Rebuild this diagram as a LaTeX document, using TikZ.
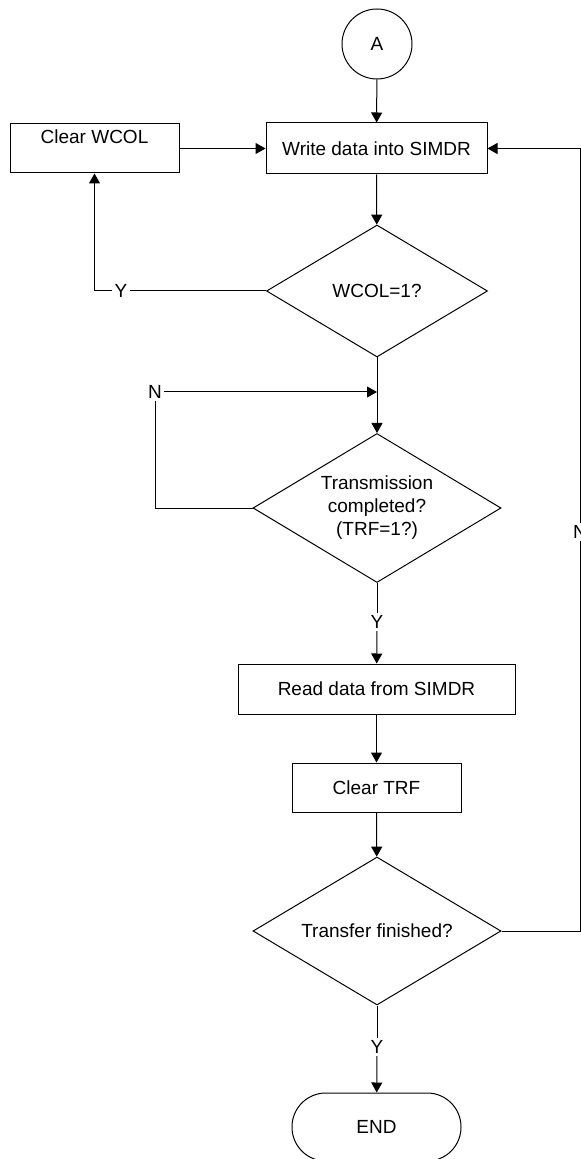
\documentclass[tikz,border=0pt]{standalone}
\usepackage{fontspec}
\setmainfont{Liberation Sans}
\usetikzlibrary{arrows.meta, positioning, shapes.geometric}

\begin{document}
\begin{tikzpicture}[x=0.5pt, y=-0.5pt, line width=0.5pt,
    font=\fontsize{9.5pt}{11.5pt}\selectfont,
    box/.style={draw, rectangle, inner sep=0pt, align=center},
    decision/.style={draw, diamond, inner sep=0pt, aspect=1.65, align=center},
    lbl/.style={inner sep=1pt},
    arrow/.style={-{Triangle[length=5pt, width=5.5pt]}}]
    \useasboundingbox (0,0) rectangle (581,1159);

    % Steps of the flow
    \node[draw, circle, minimum size=35pt, inner sep=0pt] (conA) at (377,44) {A};
    \node[box, minimum width=110.5pt, minimum height=25.5pt] (write) at (376.5,148.5) {Write data into SIMDR};
    \node[box, minimum width=84.5pt, inner ysep=3pt, text height=7pt, text depth=11.5pt] (clrwcol) at (94.5,148.5) {Clear WCOL};
    \node[decision, minimum width=110.5pt, minimum height=66pt] (wcolchk) at (377,291) {WCOL=1?};
    \node[decision, minimum width=124pt, minimum height=74.5pt] (trfchk) at (377,508) {Transmission\\completed?\\(TRF=1?)};
    \node[box, minimum width=138.5pt, minimum height=25pt] (read) at (376.5,689) {Read data from SIMDR};
    \node[box, minimum width=84.5pt, minimum height=24.5pt] (clrtrf) at (376.5,787.5) {Clear TRF};
    \node[decision, minimum width=124pt, minimum height=74pt] (donechk) at (377,931) {Transfer finished?};
    \node[draw, rounded corners=16.9pt, minimum width=84.5pt, minimum height=34pt, inner sep=0pt] (endnode) at (376.5,1127) {END};

    % Branch labels
    \node[lbl] (ywcol) at (121,291) {Y};
    \node[lbl] (ntrf) at (155,392) {N};
    \node[lbl] (ytrf) at (377,622) {Y};
    \node[lbl] (ndone) at (580,532) {N};
    \node[lbl] (ydone) at (377,1047) {Y};

    % Main line
    \draw[arrow] (conA) -- (write);
    \draw[arrow] (write) -- (wcolchk);
    \draw[arrow] (wcolchk.south) -- (trfchk.north);
    \draw (trfchk.south) -- (ytrf);
    \draw[arrow] (ytrf) -- (read);
    \draw[arrow] (read) -- (clrtrf);
    \draw[arrow] (clrtrf) -- (donechk);
    \draw (donechk.south) -- (ydone);
    \draw[arrow] (ydone) -- (endnode);

    % Loops back
    \draw (wcolchk.west) -- (ywcol);
    \draw[arrow] (ywcol) -| (clrwcol.south);
    \draw[arrow] (clrwcol) -- (write);
    \draw (trfchk.west) -| (ntrf);
    \draw[arrow] (ntrf) -- (ntrf -| wcolchk.south);
    \draw (donechk.east) -| (ndone);
    \draw[arrow] (ndone) |- (write.east);
\end{tikzpicture}
\end{document}
